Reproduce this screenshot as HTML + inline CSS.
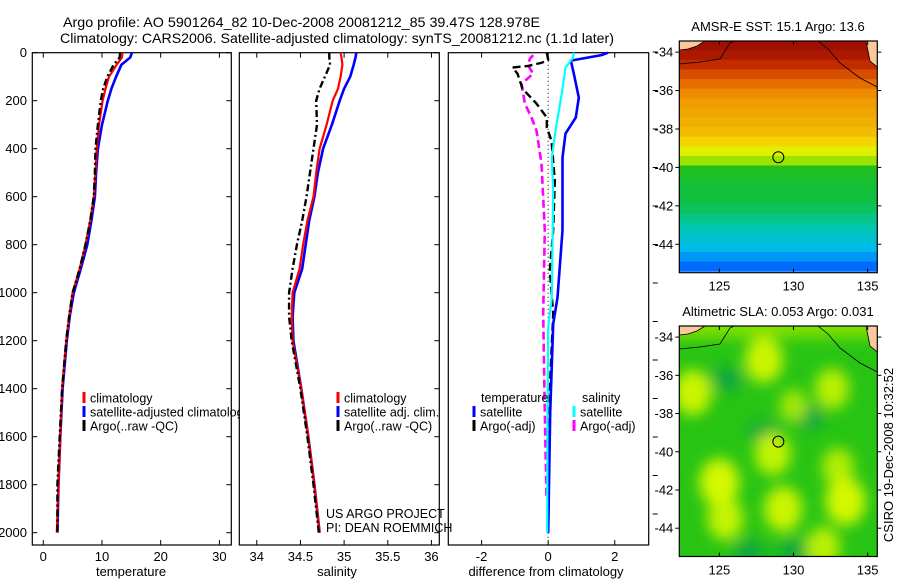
<!DOCTYPE html>
<html><head><meta charset="utf-8"><style>
html,body{margin:0;padding:0;background:#fff;width:900px;height:580px;overflow:hidden}
svg{display:block;font-family:"Liberation Sans",sans-serif}
</style></head><body>
<svg id="fig" width="900" height="580" viewBox="0 0 900 580" xmlns="http://www.w3.org/2000/svg">
<defs>
<filter id="blur" x="-50%" y="-50%" width="200%" height="200%"><feGaussianBlur stdDeviation="7"/></filter>
<clipPath id="clipSla"><rect x="679.3" y="326" width="198" height="230.5"/></clipPath>
<clipPath id="clipSst"><rect x="679.3" y="41" width="198" height="231.7"/></clipPath>
</defs>
<rect width="900" height="580" fill="#fff"/>
<text x="63" y="27" font-size="14" textLength="477" lengthAdjust="spacingAndGlyphs">Argo profile: AO 5901264_82 10-Dec-2008 20081212_85 39.47S 128.978E</text>
<text x="60" y="43" font-size="14" textLength="554" lengthAdjust="spacingAndGlyphs">Climatology: CARS2006. Satellite-adjusted climatology: synTS_20081212.nc (1.1d later)</text>
<g id="root"></g>
</svg>
<script>
// ---- profile data ----
const depthLevels = [0,20,50,100,150,200,300,400,500,600,700,800,900,1000,1100,1200,1400,1600,1800,2000];
const tempClim = [13.5,13.4,12.5,11.2,10.6,10.1,9.5,9.1,8.9,8.6,8.0,7.2,6.2,5.0,4.4,3.9,3.2,2.9,2.6,2.3];
const tempSat  = [15.1,14.8,13.3,12.4,11.6,11.0,10.0,9.3,9.0,8.8,8.2,7.5,6.4,5.2,4.5,4.0,3.3,2.9,2.6,2.4];
const tempArgo = [13.1,13.0,12.0,10.9,10.2,9.8,9.3,8.9,8.8,8.6,8.0,7.2,6.2,5.0,4.4,3.9,3.2,2.8,2.4,2.4];
const salClim = [34.96,34.97,34.98,34.96,34.93,34.87,34.80,34.72,34.68,34.65,34.58,34.53,34.49,34.41,34.40,34.41,34.51,34.59,34.66,34.72];
const salSat  = [35.14,35.13,35.11,35.07,35.00,34.95,34.86,34.76,34.70,34.66,34.60,34.56,34.52,34.43,34.41,34.42,34.51,34.59,34.66,34.72];
const salArgo = [34.83,34.83,34.84,34.78,34.72,34.68,34.69,34.65,34.61,34.57,34.52,34.46,34.41,34.37,34.37,34.40,34.50,34.58,34.65,34.71];
const dTempSatDepth = [0,10,33,87,187,270,337,437,740,1020,1130,1500,2000];
const dTempSat = [1.8,1.6,0.68,0.77,0.92,0.83,0.52,0.43,0.43,0.28,0.15,0.06,0.0];
const dSalSatDepth = [0,20,62,162,325,437,575,1020,1145,1500,2000];
const dSalSat = [0.77,0.75,0.52,0.42,0.22,0.11,0.15,0.11,0.0,-0.02,-0.03];
const dTempArgoDepth = [0,30,42,55,62,87,150,212,270,312,367,533,740,908,1087,1400,1700,2000];
const dTempArgo = [-0.04,0.0,-0.2,-0.6,-1.07,-0.92,-0.77,-0.35,-0.04,-0.04,0.1,0.2,0.15,0.05,0.15,0.05,0.02,0.0];
const dSalArgoDepth = [10,25,54,87,130,212,270,325,462,740,1087,1500,1850];
const dSalArgo = [-0.45,-0.55,-0.6,-0.45,-0.8,-0.7,-0.5,-0.35,-0.2,-0.1,-0.15,-0.1,-0.05];
const depthTicks = [0,200,400,600,800,1000,1200,1400,1600,1800,2000];
const tempTicks = [0,10,20,30];
const salTicks = [34,34.5,35,35.5,36];
const diffTicks = [-2,0,2];
// ---- map data ----
const sstRowLat = [-33.4,-33.9,-34.4,-34.9,-35.4,-35.9,-36.4,-36.9,-37.4,-37.9,-38.4,-38.9,-39.4,-39.9,-40.4,-40.9,-41.4,-41.9,-42.4,-42.9,-43.4,-43.9,-44.4,-44.9];
const sstRowVal = [20.5,20.3,19.9,19.3,18.7,18.1,17.6,17.3,17.0,16.7,16.1,15.6,15.1,14.3,14.1,13.9,13.8,13.6,13.3,13.0,12.7,12.4,12.0,11.6];
const slaBlobLon = [128.0,123.2,132.6,130.0,128.6,125.0,125.4,129.3,133.5,132.0,133.0];
const slaBlobLat = [-35.2,-36.9,-36.7,-37.6,-40.1,-41.6,-43.5,-43.0,-42.6,-45.0,-40.8];
const slaBlobVal = [0.9,0.9,0.7,0.4,0.8,1.0,0.8,0.9,1.0,0.7,0.6];
const slaDarkLon = [125.5,127.0,130.0,128.0,131.0];
const slaDarkLat = [-36.2,-45.2,-45.2,-39.0,-38.2];
const argoLon = 128.978, argoLat = -39.47;
const lonTicks = [125,130,135];
const latTicks = [-34,-36,-38,-40,-42,-44];

const NS='http://www.w3.org/2000/svg';
const root=document.getElementById('root');
function el(tag,attrs,parent){const e=document.createElementNS(NS,tag);for(const k in attrs)e.setAttribute(k,attrs[k]);(parent||root).appendChild(e);return e;}
function txt(s,attrs,parent){const e=el('text',attrs,parent);e.textContent=s;return e;}

const yTop=52.7, yPer=0.24; // px per dbar
function yD(d){return yTop+d*yPer;}
const P1={x0:32.3,x1:231.3,v0:-1.87,v1:32.03};
const P2={x0:239.3,x1:439.3,v0:33.80,v1:36.09};
const P3={x0:448.3,x1:648.7,v0:-3.0,v1:3.02};
const yBot=545;
function sx(P,v){return P.x0+(v-P.v0)/(P.v1-P.v0)*(P.x1-P.x0);}

function frame(P,name,fill){
  const r=el('rect',{x:P.x0,y:yTop,width:P.x1-P.x0,height:yBot-yTop,fill:fill?'#fff':'none',stroke:'#000','stroke-width':1.2});
  
  
}
function xticks(P,ticks,name){
  const g=el('g',{});
  
  
  ticks.forEach(t=>{const x=sx(P,t);
    el('line',{x1:x,x2:x,y1:yTop,y2:yTop+5,stroke:'#000'},g);
    el('line',{x1:x,x2:x,y1:yBot,y2:yBot-5,stroke:'#000'},g);
    txt(String(t),{x:x,y:yBot+16,'font-size':13,'text-anchor':'middle'},g);});
}
function line(P,depths,vals,color,w,dash,name){
  let d='';
  vals.forEach((v,i)=>{d+=(i?'L':'M')+sx(P,v).toFixed(1)+','+yD(depths[i]).toFixed(1);});
  const p=el('path',{d:d,fill:'none',stroke:color,'stroke-width':w,'stroke-dasharray':dash||'none','stroke-linejoin':'round'});
  
  
}
function legend(x,y,color,label,name){
  const g=el('g',{});
  
  
  el('line',{x1:x,x2:x,y1:y-6,y2:y+5,stroke:color,'stroke-width':3},g);
  txt(label,{x:x+6,y:y+4.5,'font-size':12.5},g);
}

// Panel 1
frame(P1,'temperature-panel',true);
xticks(P1,tempTicks,'temperature-x-axis');
const ya=el('g',{});


depthTicks.forEach(d=>{const y=yD(d);
  el('line',{x1:P1.x0,x2:P1.x0+5,y1:y,y2:y,stroke:'#000'},ya);
  el('line',{x1:P1.x1,x2:P1.x1-5,y1:y,y2:y,stroke:'#000'},ya);
  el('line',{x1:P2.x1,x2:P2.x1-5,y1:y,y2:y,stroke:'#000'},ya);
  txt(String(d),{x:27,y:y+4.5,'font-size':13,'text-anchor':'end'},ya);});
txt('temperature',{x:131,y:576,'font-size':13,'text-anchor':'middle',});
line(P1,depthLevels,tempSat,'#0000ff',2.6,null,'temp-satellite-line');
line(P1,depthLevels,tempClim,'#ff0000',2.2,null,'temp-climatology-line');
line(P1,depthLevels,tempArgo,'#000',2.4,'7,3,2,3','temp-argo-line');
legend(84,398,'#ff0000','climatology','legend-climatology');
legend(84,412,'#0000ff','satellite-adjusted climatology','legend-satellite-adjusted');
legend(84,426,'#000','Argo(..raw -QC)','legend-argo');

// Panel 2
frame(P2,'salinity-panel',true);
xticks(P2,salTicks,'salinity-x-axis');
txt('salinity',{x:337,y:576,'font-size':13,'text-anchor':'middle',});
depthTicks.forEach(d=>{const y=yD(d);el('line',{x1:P2.x1,x2:P2.x1-5,y1:y,y2:y,stroke:'#000'});});
line(P2,depthLevels,salSat,'#0000ff',2.6,null,'sal-satellite-line');
line(P2,depthLevels,salClim,'#ff0000',2.2,null,'sal-climatology-line');
line(P2,depthLevels,salArgo,'#000',2.4,'7,3,2,3','sal-argo-line');
legend(338,398,'#ff0000','climatology','legend-sal-climatology');
legend(338,412,'#0000ff','satellite adj. clim.','legend-sal-satellite');
legend(338,426,'#000','Argo(..raw -QC)','legend-sal-argo');
txt('US ARGO PROJECT',{x:326,y:518,'font-size':12.5,});
txt('PI: DEAN ROEMMICH',{x:326,y:532,'font-size':12.5,});

// Panel 3
frame(P3,'difference-panel',false);
xticks(P3,diffTicks,'difference-x-axis');
for(let i=0;i<13;i++){const y=52+i*38.5;el('line',{x1:P3.x1+4,x2:P3.x1+9,y1:y,y2:y,stroke:'#000'});}
el('line',{x1:sx(P3,0),x2:sx(P3,0),y1:yTop,y2:538,stroke:'#000','stroke-dasharray':'1,3',});
txt('difference from climatology',{x:546,y:576,'font-size':13,'text-anchor':'middle',});
line(P3,dSalArgoDepth,dSalArgo,'#ff00ff',2.6,'8,4','diff-sal-argo-line');
line(P3,dTempArgoDepth,dTempArgo,'#000',2.4,'8,4','diff-temp-argo-line');
line(P3,dTempSatDepth,dTempSat,'#0000ff',2.6,null,'diff-temp-satellite-line');
line(P3,dSalSatDepth,dSalSat,'#00ffff',2.2,null,'diff-sal-satellite-line');
txt('temperature',{x:481,y:402,'font-size':12.5,});
txt('salinity',{x:582,y:402,'font-size':12.5,});
legend(474,412,'#0000ff','satellite','legend-diff-temp-satellite');
legend(474,426,'#000','Argo(-adj)','legend-diff-temp-argo');
legend(574,412,'#00ffff','satellite','legend-diff-sal-satellite');
legend(574,426,'#ff00ff','Argo(-adj)','legend-diff-sal-argo');

// ---- Maps ----
const M={x0:679.3,x1:877.3,lon0:122.3,lon1:135.65,lat0:-33.42,lat1:-45.48};
function mx(lon){return M.x0+(lon-M.lon0)/(M.lon1-M.lon0)*(M.x1-M.x0);}
function my(lat,top,h){return top+(M.lat0-lat)/(M.lat0-M.lat1)*h;}
const stops=[[11.5,[0,96,255]],[12.3,[0,184,240]],[13.0,[0,200,176]],[13.8,[16,192,64]],[14.3,[32,192,32]],[15.0,[144,224,0]],[15.6,[224,240,0]],[16.2,[248,208,0]],[17.0,[240,176,0]],[18.0,[240,144,0]],[19.0,[224,96,0]],[19.8,[200,48,0]],[20.5,[160,16,0]]];
function cmap(v){if(v<=stops[0][0])return 'rgb('+stops[0][1]+')';
  for(let i=1;i<stops.length;i++){if(v<=stops[i][0]){const a=stops[i-1],b=stops[i],f=(v-a[0])/(b[0]-a[0]);
    return 'rgb('+a[1].map((c,j)=>Math.round(c+(b[1][j]-c)*f)).join(',')+')';}}
  return 'rgb('+stops[stops.length-1][1]+')';}
function coast(g,top,h){
  const off=top;
  el('polygon',{points:`${M.x0},${off} 705,${off} 697,${off+5} 688,${off+8} ${M.x0},${off+9}`,fill:'#fbc89c'},g);
  el('polygon',{points:`866,${off} ${M.x1},${off} ${M.x1},${off+26} 870,${off+20}`,fill:'#fbc89c'},g);
  el('polyline',{points:`${M.x0},${off+9} 688,${off+8} 697,${off+5} 705,${off}`,fill:'none',stroke:'#000','stroke-width':0.8},g);
  el('polyline',{points:`${M.x0},${off+23} 700,${off+21} 720,${off+18} 730,${off+2} 734,${off}`,fill:'none',stroke:'#000','stroke-width':0.8},g);
  el('polyline',{points:`818,${off} 828,${off+8} 840,${off+22} 860,${off+37} ${M.x1},${off+46}`,fill:'none',stroke:'#000','stroke-width':0.8},g);
  el('polyline',{points:`866,${off} 870,${off+20} ${M.x1},${off+26}`,fill:'none',stroke:'#000','stroke-width':0.8},g);
}
function mapAxes(g,top,h){
  el('rect',{x:M.x0,y:top,width:M.x1-M.x0,height:h,fill:'none',stroke:'#000','stroke-width':1.2},g);
  lonTicks.forEach(l=>{const x=mx(l);el('line',{x1:x,x2:x,y1:top+h,y2:top+h-4,stroke:'#000'},g);el('line',{x1:x,x2:x,y1:top,y2:top+4,stroke:'#000'},g);
    txt(String(l),{x:x,y:top+h+18,'font-size':13,'text-anchor':'middle'},g);});
  latTicks.forEach(l=>{const y=my(l,top,h);el('line',{x1:M.x0-4,x2:M.x0,y1:y,y2:y,stroke:'#000'},g);el('line',{x1:M.x1,x2:M.x1+4,y1:y,y2:y,stroke:'#000'},g);
    txt(String(l),{x:M.x0-6,y:y+4.5,'font-size':13,'text-anchor':'end'},g);});
  el('circle',{cx:mx(argoLon),cy:my(argoLat,top,h),r:5.5,fill:'none',stroke:'#000','stroke-width':1},g);
}
// SST
const sstTop=41,sstH=231.7;
const gS=el('g',{'clip-path':'url(#clipSst)'});


sstRowLat.forEach((lat,i)=>{const y=my(lat,sstTop,sstH),y2=my(lat-0.5,sstTop,sstH);
  const r=el('rect',{x:M.x0,y:y,width:M.x1-M.x0,height:y2-y+0.6,fill:cmap(sstRowVal[i])},gS);
  
  });
coast(gS,sstTop,sstH);
const gSa=el('g',{});


mapAxes(gSa,sstTop,sstH);
txt('AMSR-E SST: 15.1 Argo: 13.6',{x:778,y:31,'font-size':13,'text-anchor':'middle',});
// SLA
const slaTop=326,slaH=230.5;
const gL=el('g',{'clip-path':'url(#clipSla)'});


el('rect',{x:M.x0,y:slaTop,width:M.x1-M.x0,height:slaH,fill:'#28c414'},gL);
const gB=el('g',{filter:'url(#blur)'},gL);
el('rect',{x:M.x0-20,y:slaTop-20,width:240,height:32,fill:'#80e000'},gB);
slaDarkLon.forEach((lon,i)=>{const c=el('ellipse',{cx:mx(lon),cy:my(slaDarkLat[i],slaTop,slaH),rx:16,ry:12,fill:'#10a840'},gB);
  
  });
slaBlobLon.forEach((lon,i)=>{const v=slaBlobVal[i];const c=el('ellipse',{cx:mx(lon),cy:my(slaBlobLat[i],slaTop,slaH),rx:10+10*v,ry:12+12*v,fill:'#d4f800','fill-opacity':0.5+0.5*v},gB);
  
  });
coast(gL,slaTop,slaH);
const gLa=el('g',{});


mapAxes(gLa,slaTop,slaH);
txt('Altimetric SLA: 0.053 Argo: 0.031',{x:778,y:316,'font-size':13,'text-anchor':'middle',});
txt('CSIRO 19-Dec-2008 10:32:52',{x:0,y:0,'font-size':13,'text-anchor':'middle',transform:'translate(893,455) rotate(-90)',});
</script>
</body></html>
